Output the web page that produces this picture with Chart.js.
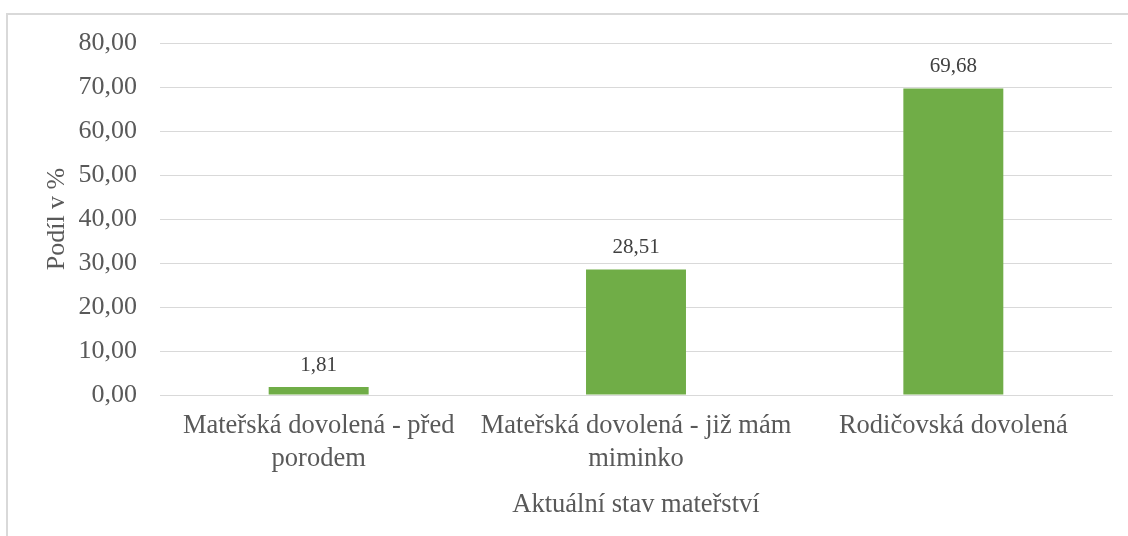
<!DOCTYPE html>
<html>
<head>
<meta charset="utf-8">
<script src="https://cdn.jsdelivr.net/npm/chart.js@4/dist/chart.umd.min.js"></script>
<style>
  html, body { margin: 0; padding: 0; background: #fff; }
  #wrap { position: relative; width: 1128px; height: 536px; overflow: hidden; }
  #frame { position: absolute; left: 6px; top: 13px; width: 1200px; height: 600px; border: 2px solid #d9d9d9; box-sizing: border-box; }
  #chart { position: absolute; left: 0; top: 0; }
</style>
</head>
<body>
<div id="wrap">
  <div id="frame"></div>
  <canvas id="chart" width="1128" height="536"></canvas>
</div>
<script>
// values
const categories = [
  ['Mateřská dovolená - před', 'porodem'],
  ['Mateřská dovolená - již mám', 'miminko'],
  'Rodičovská dovolená'
];
const shares = [1.81, 28.51, 69.68];
const yTicks = [0, 10, 20, 30, 40, 50, 60, 70, 80];

const serif = "'Liberation Serif', 'Times New Roman', serif";
const fmt = v => v.toFixed(2).replace('.', ',');

Chart.defaults.font.family = serif;
Chart.defaults.font.size = 26;
Chart.defaults.color = '#595959';

// data labels above each bar
const barLabels = {
  id: 'barLabels',
  afterDatasetsDraw(chart) {
    const ctx = chart.ctx;
    const meta = chart.getDatasetMeta(0);
    ctx.save();
    ctx.font = '21px ' + serif;
    ctx.fillStyle = '#404040';
    ctx.textAlign = 'center';
    ctx.textBaseline = 'middle';
    meta.data.forEach((bar, i) => {
      ctx.fillText(fmt(shares[i]), bar.x, bar.y - 22);
    });
    ctx.restore();
  }
};

new Chart(document.getElementById('chart').getContext('2d'), {
  type: 'bar',
  data: {
    labels: categories,
    datasets: [{
      data: shares,
      backgroundColor: '#70ad47',
      borderWidth: 0,
      barPercentage: 0.315,
      categoryPercentage: 1
    }]
  },
  plugins: [barLabels],
  options: {
    responsive: false,
    animation: false,
    layout: { padding: { left: 0, right: 16, top: 43, bottom: 0 } },
    plugins: {
      legend: { display: false },
      tooltip: { enabled: false }
    },
    scales: {
      x: {
        grid: { display: false, drawTicks: false },
        border: { color: '#d9d9d9', width: 1 },
        ticks: {
          padding: 15,
          maxRotation: 0,
          minRotation: 0,
          autoSkip: false,
          font: { size: 26.5, lineHeight: 1.23 }
        },
        title: {
          display: true,
          text: 'Aktuální stav mateřství',
          font: { size: 26.5 },
          padding: { top: 0, bottom: 15 }
        },
        afterFit(axis) { axis.height = 141; }
      },
      y: {
        min: 0,
        max: 80,
        afterBuildTicks(axis) { axis.ticks = yTicks.map(v => ({ value: v })); },
        grid: { color: '#d9d9d9', lineWidth: 1, drawTicks: false },
        border: { display: false },
        ticks: {
          padding: 23,
          callback: v => fmt(v)
        },
        title: {
          display: true,
          text: 'Podíl v %',
          padding: { top: 42, bottom: 0 }
        },
        afterFit(axis) { axis.width = 160; }
      }
    }
  }
});
</script>
</body>
</html>
